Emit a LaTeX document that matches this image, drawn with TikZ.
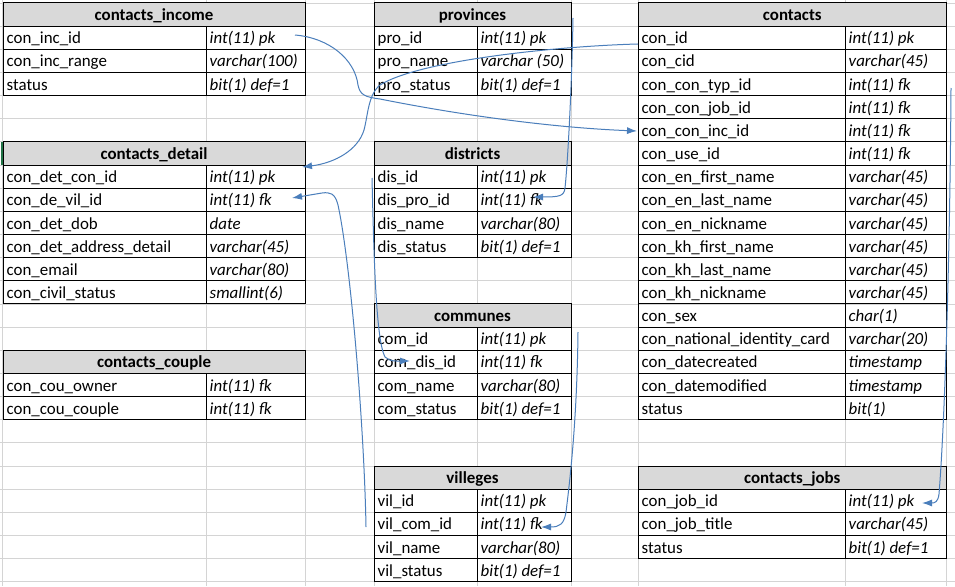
\documentclass[tikz,border=0pt]{standalone}
\usepackage{fontspec}
\setmainfont{Carlito}
\usetikzlibrary{arrows.meta}
\definecolor{gridgray}{RGB}{212,212,212}
\definecolor{headgray}{RGB}{217,217,217}
\definecolor{connblue}{RGB}{74,126,187}
\definecolor{selgreen}{RGB}{33,115,70}
\newcommand\fs{\fontsize{16.9}{20}\selectfont}
\tikzset{
  fieldtext/.style={anchor=base west, inner sep=0pt, font=\fs},
  typetext/.style={anchor=base west, inner sep=0pt, font=\fs\itshape},
  headtext/.style={anchor=base, inner sep=0pt, font=\fs\bfseries},
  tableline/.style={line width=1pt, black},
  gridline/.style={line width=0.9pt, gridgray},
  conn/.style={line width=1pt, connblue, -{Latex[length=10pt,width=7pt]}},
}
\newcommand\mktable[7]{%
  \pgfmathsetmacro\ytop{3+23.15*#5}
  \fill[headgray] (#2,\ytop) rectangle (#4,\ytop+23.15);
  \draw[tableline] (#2,\ytop) rectangle (#4,\ytop+23.15);
  \node[headtext] (#1) at ({(#2+#4)/2},\ytop+23.15-5.5) {#6};
  \foreach \fld/\typ [count=\i] in {#7} {
    \pgfmathsetmacro\yb{\ytop+23.15*(\i+1)}
    \node[fieldtext] (#1-\i) at (#2+3.5,\yb-5.5) {\fld};
    \node[typetext] (#1-\i-t) at (#3+3.5,\yb-5.5) {\typ};
    \draw[tableline] (#2,\yb-23.15) -- (#2,\yb) -- (#4,\yb) -- (#4,\yb-23.15);
    \draw[tableline] (#3,\yb-23.15) -- (#3,\yb);
  }
}
\begin{document}
\begin{tikzpicture}[x=1pt,y=-1pt]
\useasboundingbox (0,0) rectangle (955,586);
\fill[white] (0,0) rectangle (955,586);
% spreadsheet grid
\foreach \k in {0,...,25} {
  \draw[gridline] (0,{3+23.15*\k}) -- (955,{3+23.15*\k});
}
\foreach \xx in {2,206,305,374,477,571,638,845,946.5} {
  \draw[gridline] (\xx,0) -- (\xx,586);
}
% tables
\mktable{income}{3}{206}{305}{0}{contacts\_income}{con\_inc\_id/int(11) pk, con\_inc\_range/varchar(100), status/bit(1) def=1}
\mktable{detail}{3}{206}{305}{6}{contacts\_detail}{con\_det\_con\_id/int(11) pk, con\_de\_vil\_id/int(11) fk, con\_det\_dob/date, con\_det\_address\_detail/varchar(45), con\_email/varchar(80), con\_civil\_status/smallint(6)}
\mktable{couple}{3}{206}{305}{15}{contacts\_couple}{con\_cou\_owner/int(11) fk, con\_cou\_couple/int(11) fk}
\mktable{provinces}{374}{477}{571}{0}{provinces}{pro\_id/int(11) pk, pro\_name/varchar (50), pro\_status/bit(1) def=1}
\mktable{districts}{374}{477}{571}{6}{districts}{dis\_id/int(11) pk, dis\_pro\_id/int(11) fk, dis\_name/varchar(80), dis\_status/bit(1) def=1}
\mktable{communes}{374}{477}{571}{13}{communes}{com\_id/int(11) pk, com\_dis\_id/int(11) fk, com\_name/varchar(80), com\_status/bit(1) def=1}
\mktable{villeges}{374}{477}{571}{20}{villeges}{vil\_id/int(11) pk, vil\_com\_id/int(11) fk, vil\_name/varchar(80), vil\_status/bit(1) def=1}
\mktable{contacts}{638}{845}{946.5}{0}{contacts}{con\_id/int(11) pk, con\_cid/varchar(45), con\_con\_typ\_id/int(11) fk, con\_con\_job\_id/int(11) fk, con\_con\_inc\_id/int(11) fk, con\_use\_id/int(11) fk, con\_en\_first\_name/varchar(45), con\_en\_last\_name/varchar(45), con\_en\_nickname/varchar(45), con\_kh\_first\_name/varchar(45), con\_kh\_last\_name/varchar(45), con\_kh\_nickname/varchar(45), con\_sex/char(1), con\_national\_identity\_card/varchar(20), con\_datecreated/timestamp, con\_datemodified/timestamp, status/bit(1)}
\mktable{jobs}{638}{845}{946.5}{20}{contacts\_jobs}{con\_job\_id/int(11) pk, con\_job\_title/varchar(45), status/bit(1) def=1}
% selection marker
\draw[selgreen, line width=2pt] (1.5,141.9) -- (1.5,164.8);
% connector end points
\coordinate (c1s) at (295,35);   \coordinate (c1e) at (637,131);
\coordinate (c2s) at (638,44);   \coordinate (c2e) at (302,167);
\coordinate (c3s) at (366,527);  \coordinate (c3e) at (292,198);
\coordinate (c4s) at (372,178);  \coordinate (c4e) at (410,361);
\coordinate (c5s) at (573,18);   \coordinate (c5e) at (533,197);
\coordinate (c6s) at (578,332);  \coordinate (c6e) at (541,527);
\coordinate (c7s) at (951,88);   \coordinate (c7e) at (922,503);
% connectors
\draw[conn] (c1s) .. controls (330,38) and (355,60) .. (358,85) .. controls (360,95) and (365,97) .. (380,99) .. controls (470,117) and (560,128) .. (c1e);
\draw[conn] (c2s) .. controls (560,46) and (420,60) .. (380,85) .. controls (368,95) and (368,115) .. (364,130) .. controls (358,150) and (335,163) .. (c2e);
\draw[conn] (c3s) .. controls (364,420) and (350,260) .. (338,205) .. controls (335,193) and (330,192) .. (322,193) -- (c3e);
\draw[conn] (c4s) .. controls (374,260) and (376,340) .. (385,357) .. controls (390,362) and (398,361) .. (c4e);
\draw[conn] (c5s) .. controls (572,80) and (568,160) .. (565,188) .. controls (564,196) and (560,197) .. (c5e);
\draw[conn] (c6s) .. controls (577,420) and (570,480) .. (566,512) .. controls (564,524) and (560,527) .. (c6e);
\draw[conn] (c7s) .. controls (950,250) and (945,420) .. (939,494) .. controls (938,502) and (935,503) .. (c7e);
\end{tikzpicture}
\end{document}
